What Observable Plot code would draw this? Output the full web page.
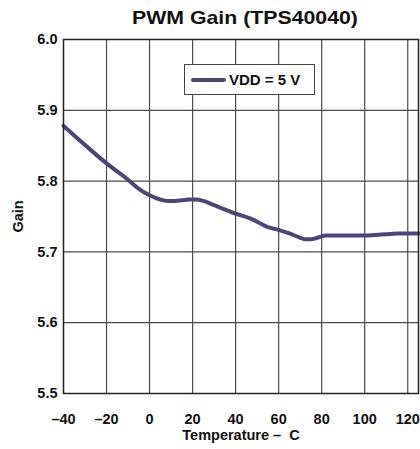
<!DOCTYPE html>
<html>
<head>
<meta charset="utf-8">
<script src="https://cdn.jsdelivr.net/npm/d3@7"></script>
<script src="https://cdn.jsdelivr.net/npm/@observablehq/plot@0.6"></script>
<style>
  html, body { margin: 0; padding: 0; background: #fff; }
  #wrap { position: relative; width: 420px; height: 449px; font-family: "Liberation Sans", Arial, Helvetica, sans-serif; }
  #title { height: 30px; position: relative; }
  #title span { position: absolute; left: 245px; top: 8px; white-space: nowrap; font-weight: bold; font-size: 19px; line-height: 1; color: #111;
                transform: translateX(-50%) scaleX(1.12); transform-origin: 50% 0; }
  #legend { position: absolute; left: 184px; top: 64px; width: 131px; height: 31px; box-sizing: border-box;
            border: 1px solid #444; background: #fff; display: flex; align-items: center; }
  #legend .sw { display: inline-block; width: 35px; height: 4px; background: #4a4777; margin-left: 6px; margin-right: 3px; border-radius: 2px; }
  #legend .tx { font-weight: bold; font-size: 15px; color: #111; white-space: nowrap; }
</style>
</head>
<body>
<div id="wrap">
  <div id="title"><span>PWM Gain (TPS40040)</span></div>
  <div id="chart"></div>
  <div id="legend"><span class="sw"></span><span class="tx">VDD = 5 V</span></div>
</div>
<script>
const seriesName = "VDD = 5 V";
const temperature = [-40, -30, -20, -10, -5, 0, 5, 8, 12, 15, 18, 22, 25, 30, 40, 47, 55, 60, 65, 70, 72, 75, 77, 79, 82, 90, 100, 105, 110, 115, 125];
const gain = [5.878, 5.851, 5.825, 5.802, 5.789, 5.780, 5.774, 5.772, 5.772, 5.773, 5.774, 5.774, 5.772, 5.766, 5.754, 5.747, 5.735, 5.731, 5.726, 5.720, 5.718, 5.718, 5.719, 5.721, 5.723, 5.723, 5.723, 5.724, 5.725, 5.726, 5.726];
const xTicks = [-40, -20, 0, 20, 40, 60, 80, 100, 120];
const yTicks = [5.5, 5.6, 5.7, 5.8, 5.9, 6.0];
const xDomain = [-40, 125];
const yDomain = [5.5, 6.0];

const data = temperature.map((t, i) => ({t, g: gain[i], s: seriesName}));
const fmtX = d => d < 0 ? "\u2013" + Math.abs(d) : String(d);

const chart = Plot.plot({
  width: 420,
  height: 419,
  marginLeft: 63,
  marginRight: 2,
  marginTop: 9,
  marginBottom: 56,
  style: {fontFamily: "'Liberation Sans', Arial, Helvetica, sans-serif", fontWeight: "bold", color: "#111", background: "#fff"},
  x: {domain: xDomain},
  y: {domain: yDomain},
  marks: [
    Plot.ruleX(xTicks.slice(1), {stroke: "#4a4a4a", strokeWidth: 1.2}),
    Plot.ruleY(yTicks.slice(1, -1), {stroke: "#4a4a4a", strokeWidth: 1.2}),
    Plot.line(data, {x: "t", y: "g", stroke: "#4a4777", strokeWidth: 4, curve: "monotone-x"}),
    Plot.frame({stroke: "#222", strokeWidth: 1.5}),
    Plot.axisX({ticks: xTicks, tickSize: 0, tickPadding: 20, tickFormat: fmtX, fontSize: 14.5,
                label: "Temperature \u2013  C", labelAnchor: "center", labelArrow: "none", labelOffset: 46}),
    Plot.axisY({ticks: yTicks, tickSize: 0, tickPadding: 6, tickFormat: d3.format(".1f"), fontSize: 14.5,
                label: "Gain", labelAnchor: "center", labelArrow: "none", labelOffset: 51})
  ]
});
chart.querySelectorAll("[aria-label='x-axis label'], [aria-label='y-axis label']").forEach(el => el.setAttribute("font-size", "14.5"));
document.getElementById("chart").appendChild(chart);
</script>
</body>
</html>
